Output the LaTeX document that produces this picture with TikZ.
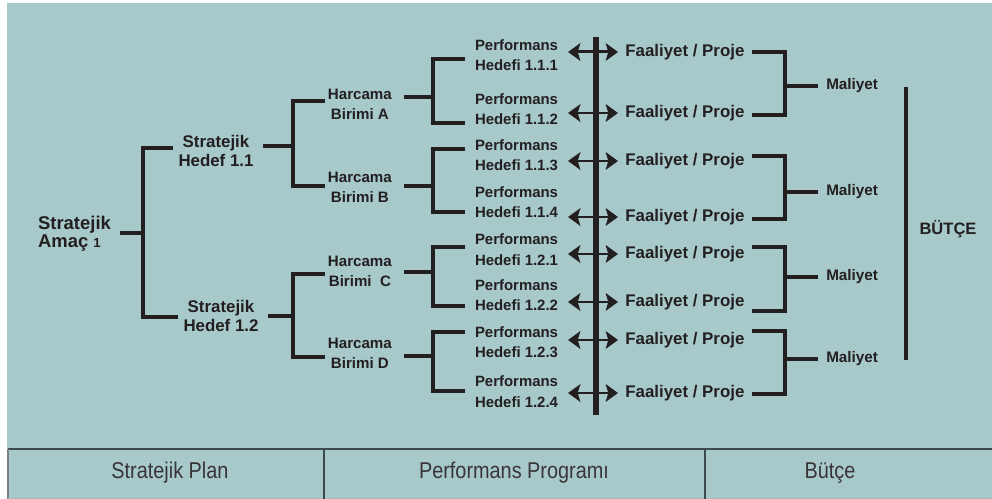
\documentclass[tikz,border=0pt]{standalone}
\usepackage{fontspec}
\setmainfont{Liberation Sans}
\usetikzlibrary{arrows.meta}
\definecolor{panel}{HTML}{A8C9CA}
\definecolor{ink}{HTML}{231F20}
\definecolor{rule}{HTML}{3C4A4C}
\tikzset{
  lbl/.style={text=ink, align=center, inner ysep=1pt},
  amacbox/.style={lbl, font=\bfseries\fontsize{10.5}{10.3}\selectfont, align=left, inner xsep=1pt},
  hedefbox/.style={lbl, font=\bfseries\fontsize{9.6}{11.3}\selectfont, inner xsep=3pt},
  birimbox/.style={lbl, font=\bfseries\fontsize{8.6}{11.3}\selectfont, inner xsep=1.5pt, anchor=west},
  perfbox/.style={lbl, font=\bfseries\fontsize{8.5}{11.6}\selectfont, inner xsep=5.5pt, anchor=west},
  faalbox/.style={lbl, font=\bfseries\fontsize{9.6}{11}\selectfont, inner xsep=4pt, anchor=west},
  malbox/.style={lbl, font=\bfseries\fontsize{8.7}{10}\selectfont, inner xsep=4.5pt, anchor=west},
  cellbox/.style={text=ink!90, font=\fontsize{13}{15}\selectfont},
  brk/.style={draw=ink, line width=2.3pt, line join=miter},
  rbrk/.style={draw=ink, line width=1.8pt, line join=miter},
  dbl/.style={draw=ink, fill=ink, line width=1.7pt, <->,
    >={Stealth[length=7pt,width=10pt,inset=1.5pt]}}
}
\newcommand{\narrow}[1]{\scalebox{0.87}[1]{#1}}
\begin{document}
\begin{tikzpicture}[x=0.02cm, y=-0.02cm]
  \useasboundingbox (0,0) rectangle (992,499);
  % Background
  \fill [panel] (7,3) rectangle (992,499);

  % Bottom row
  \draw [rule, line width=1.1pt] (8,449) -- (992,449);
  \draw [rule!70, line width=1pt] (8,449) -- (8,499);
  \draw [rule!40, line width=0.8pt] (8,498.5) -- (992,498.5);
  \draw [rule, line width=1.6pt] (324,449) -- (324,499);
  \draw [rule, line width=1.6pt] (705,449) -- (705,499);
  \node [cellbox] (plan) at (170,473) {\narrow{Stratejik Plan}};
  \node [cellbox] (prog) at (514,473) {\narrow{Performans Programı}};
  \node [cellbox] (butc) at (830,473) {\narrow{Bütçe}};

  % Strategic goal and targets
  \node [amacbox, anchor=west] (amac) at (36,234) {Stratejik\\Amaç {\fontsize{7.5}{8}\selectfont 1}};
  \node [hedefbox] (sh11) at (216,151) {Stratejik\\Hedef 1.1};
  \node [hedefbox] (sh12) at (221,316) {Stratejik\\Hedef 1.2};
  \coordinate (j0) at (143,233);
  \draw [brk] ([xshift=4pt]amac.east |- j0) -- (j0);
  \draw [brk] (sh11.west |- 0,148) -| (j0) |- (sh12.west |- 0,317);

  % Spending units
  \node [birimbox] (hbA) at (325,104.5) {Harcama\\Birimi A};
  \node [birimbox] (hbB) at (325,187) {Harcama\\Birimi B};
  \node [birimbox] (hbC) at (325,271) {Harcama\\Birimi\ \ C};
  \node [birimbox] (hbD) at (325,353) {Harcama\\Birimi D};
  \coordinate (j11) at (293,146);
  \coordinate (j12) at (293,316);
  \draw [brk] ([xshift=2pt]sh11.east |- j11) -- (j11);
  \draw [brk] ([xshift=2pt]sh12.east |- j12) -- (j12);
  \draw [brk] (hbA.west |- 0,101) -| (j11) |- (hbB.west |- 0,186);
  \draw [brk] (hbC.west |- 0,274) -| (j12) |- (hbD.west |- 0,357);

  % Performance targets
  \node [perfbox] (p1) at (465,55)    {Performans\\Hedefi 1.1.1};
  \node [perfbox] (p2) at (465,109)   {Performans\\Hedefi 1.1.2};
  \node [perfbox] (p3) at (465,155)   {Performans\\Hedefi 1.1.3};
  \node [perfbox] (p4) at (465,202)   {Performans\\Hedefi 1.1.4};
  \node [perfbox] (p5) at (465,249.5) {Performans\\Hedefi 1.2.1};
  \node [perfbox] (p6) at (465,295)   {Performans\\Hedefi 1.2.2};
  \node [perfbox] (p7) at (465,342)   {Performans\\Hedefi 1.2.3};
  \node [perfbox] (p8) at (465,391.5) {Performans\\Hedefi 1.2.4};
  \foreach \b/\y/\ta/\tb/\ya/\yb in {hbA/97/p1/p2/59/123, hbB/186/p3/p4/149/212,
                                     hbC/272/p5/p6/247/306, hbD/356/p7/p8/332/391} {
    \coordinate (j\b) at (433,\y);
    \draw [brk] ([xshift=5pt]\b.east |- j\b) -- (j\b);
    \draw [brk] (\ta.west |- 0,\ya) -| (j\b) |- (\tb.west |- 0,\yb);
  }

  % Spine
  \coordinate (top) at (596,37);
  \coordinate (bot) at (596,415);
  \draw [ink, line width=3.2pt] (top) -- (bot);

  % Activities
  \foreach \y [count=\i] in {52,113,161,217,254,302,340,393}
    \node [faalbox] (f\i) at (618,\y) {Faaliyet / Proje};
  \foreach \i in {1,...,8}
    \draw [dbl] (p\i.east |- f\i.west) -- (f\i.west);

  % Costs
  \foreach \a/\b/\ya/\yb/\ym [count=\k] in {f1/f2/52/115/86, f3/f4/156/219/192,
                                            f5/f6/247/311/277, f7/f8/331/394/359} {
    \coordinate (m\k) at (785,\ym);
    \node [malbox] (mal\k) at (818,\ym) {Maliyet};
    \draw [rbrk] (\a.east |- 0,\ya) -| (m\k) |- (\b.east |- 0,\yb);
    \draw [rbrk] (m\k) -- (mal\k.west);
  }

  % Budget
  \node [lbl, font=\bfseries\fontsize{9.4}{11}\selectfont] (butce) at (948,229) {BÜTÇE};
  \draw [ink, line width=2.3pt] (906,87) -- (906,360);
\end{tikzpicture}
\end{document}
